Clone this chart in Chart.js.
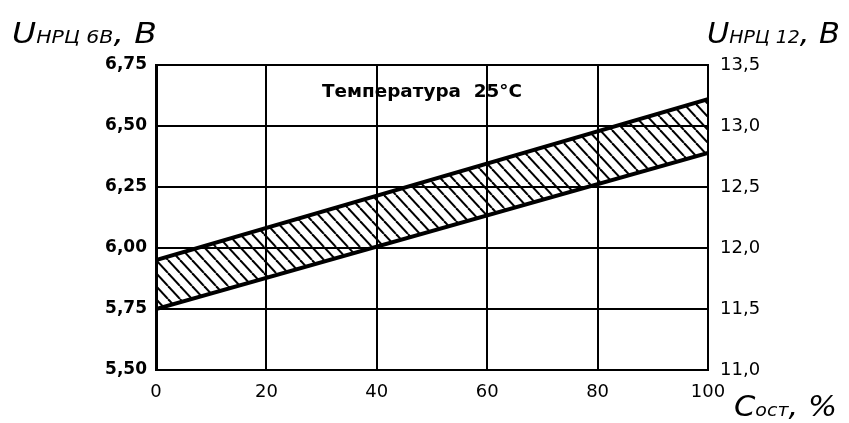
<!DOCTYPE html>
<html>
<head>
<meta charset="utf-8">
<script src="https://cdn.jsdelivr.net/npm/chart.js"></script>
<style>
  html, body { margin: 0; padding: 0; background: #fff; }
  #wrap { width: 849px; height: 423px; }
</style>
</head>
<body>
<div id="wrap"><canvas id="chart" width="849" height="423"></canvas></div>
<script>
// Напряжение разомкнутой цепи в зависимости от степени заряженности
const stateOfCharge = [0, 100];          // C ост, %
const upperVoltage6 = [5.95, 6.61];      // верхняя граница, В (6 В батарея)
const lowerVoltage6 = [5.75, 6.39];      // нижняя граница, В
const leftTicks = [5.50, 5.75, 6.00, 6.25, 6.50, 6.75];
const rightTicks = [11.0, 11.5, 12.0, 12.5, 13.0, 13.5];
const xTicks = [0, 20, 40, 60, 80, 100];
const noteText = 'Температура  25\u00B0C';

// штриховка \\\\
function hatchPattern() {
  const w = 12, h = 13;
  const c = document.createElement('canvas');
  c.width = w; c.height = h;
  const g = c.getContext('2d');
  g.strokeStyle = '#000';
  g.lineWidth = 2;
  [-w, 0, w].forEach(off => {
    g.beginPath();
    g.moveTo(off, 0);
    g.lineTo(off + w, h);
    g.stroke();
  });
  return g.createPattern(c, 'repeat');
}

function toPoints(ys) {
  return stateOfCharge.map((x, i) => ({x: x, y: ys[i]}));
}

// подписи с индексами, растянутые до нужной ширины
function drawLabel(ctx, x, baseline, parts, width) {
  let total = 0;
  parts.forEach(p => { ctx.font = p.font; total += ctx.measureText(p.text).width; });
  const sx = width / total;
  ctx.save();
  ctx.translate(x, baseline);
  ctx.scale(sx, 1);
  let cx = 0;
  parts.forEach(p => {
    ctx.font = p.font;
    ctx.fillText(p.text, cx, 0);
    cx += ctx.measureText(p.text).width;
  });
  ctx.restore();
}

const big = 'italic 29px "DejaVu Sans", sans-serif';
const sub = 'italic 18px "DejaVu Sans", sans-serif';

const labelsPlugin = {
  id: 'labels',
  afterDraw(chart) {
    const ctx = chart.ctx;
    const area = chart.chartArea;
    ctx.save();
    ctx.fillStyle = '#000';
    ctx.textAlign = 'left';
    ctx.textBaseline = 'alphabetic';
    drawLabel(ctx, 12, 43, [
      {text: 'U', font: big},
      {text: 'НРЦ 6В', font: sub},
      {text: ', В', font: big}
    ], 145);
    drawLabel(ctx, 707, 43, [
      {text: 'U', font: big},
      {text: 'НРЦ 12', font: sub},
      {text: ', В', font: big}
    ], 133);
    drawLabel(ctx, 734, 416, [
      {text: 'C', font: big},
      {text: 'ост', font: sub},
      {text: ', %', font: big}
    ], 103);
    // надпись внутри поля графика
    ctx.textBaseline = 'middle';
    drawLabel(ctx, 322, area.top + 28, [
      {text: noteText, font: 'bold 17px "DejaVu Sans", sans-serif'}
    ], 200);
    ctx.restore();
  }
};

const ctx = document.getElementById('chart').getContext('2d');
new Chart(ctx, {
  type: 'line',
  data: {
    datasets: [
      {
        label: 'верх',
        data: toPoints(upperVoltage6),
        borderColor: '#000',
        borderWidth: 4,
        pointRadius: 0,
        fill: '+1',
        backgroundColor: hatchPattern(),
        yAxisID: 'y'
      },
      {
        label: 'низ',
        data: toPoints(lowerVoltage6),
        borderColor: '#000',
        borderWidth: 4,
        pointRadius: 0,
        fill: false,
        yAxisID: 'y'
      }
    ]
  },
  options: {
    responsive: false,
    animation: false,
    layout: {padding: {top: 65, left: 0, right: 0, bottom: 0}},
    plugins: {legend: {display: false}, tooltip: {enabled: false}},
    scales: {
      x: {
        type: 'linear',
        min: 0, max: 100,
        afterBuildTicks: s => { s.ticks = xTicks.map(v => ({value: v})); },
        afterFit: s => { s.height = 53; },
        grid: {color: '#000', lineWidth: 2, drawTicks: false},
        border: {color: '#000', width: 2},
        ticks: {
          color: '#000', padding: 12,
          font: {family: '"DejaVu Sans", sans-serif', size: 18}
        }
      },
      y: {
        position: 'left',
        min: 5.5, max: 6.75,
        afterBuildTicks: s => { s.ticks = leftTicks.map(v => ({value: v})); },
        afterFit: s => { s.width = 156; },
        grid: {color: '#000', lineWidth: 2, drawTicks: false},
        border: {color: '#000', width: 3},
        ticks: {
          color: '#000', padding: 9,
          callback: v => v.toFixed(2).replace('.', ','),
          font: {family: '"DejaVu Sans", sans-serif', size: 17, weight: 'bold'}
        }
      },
      y1: {
        position: 'right',
        min: 11, max: 13.5,
        afterBuildTicks: s => { s.ticks = rightTicks.map(v => ({value: v})); },
        afterFit: s => { s.width = 141; },
        grid: {display: false, drawTicks: false},
        border: {color: '#000', width: 2},
        ticks: {
          color: '#000', padding: 12,
          callback: v => v.toFixed(1).replace('.', ','),
          font: {family: '"DejaVu Sans", sans-serif', size: 18}
        }
      }
    }
  },
  plugins: [labelsPlugin]
});
</script>
</body>
</html>
